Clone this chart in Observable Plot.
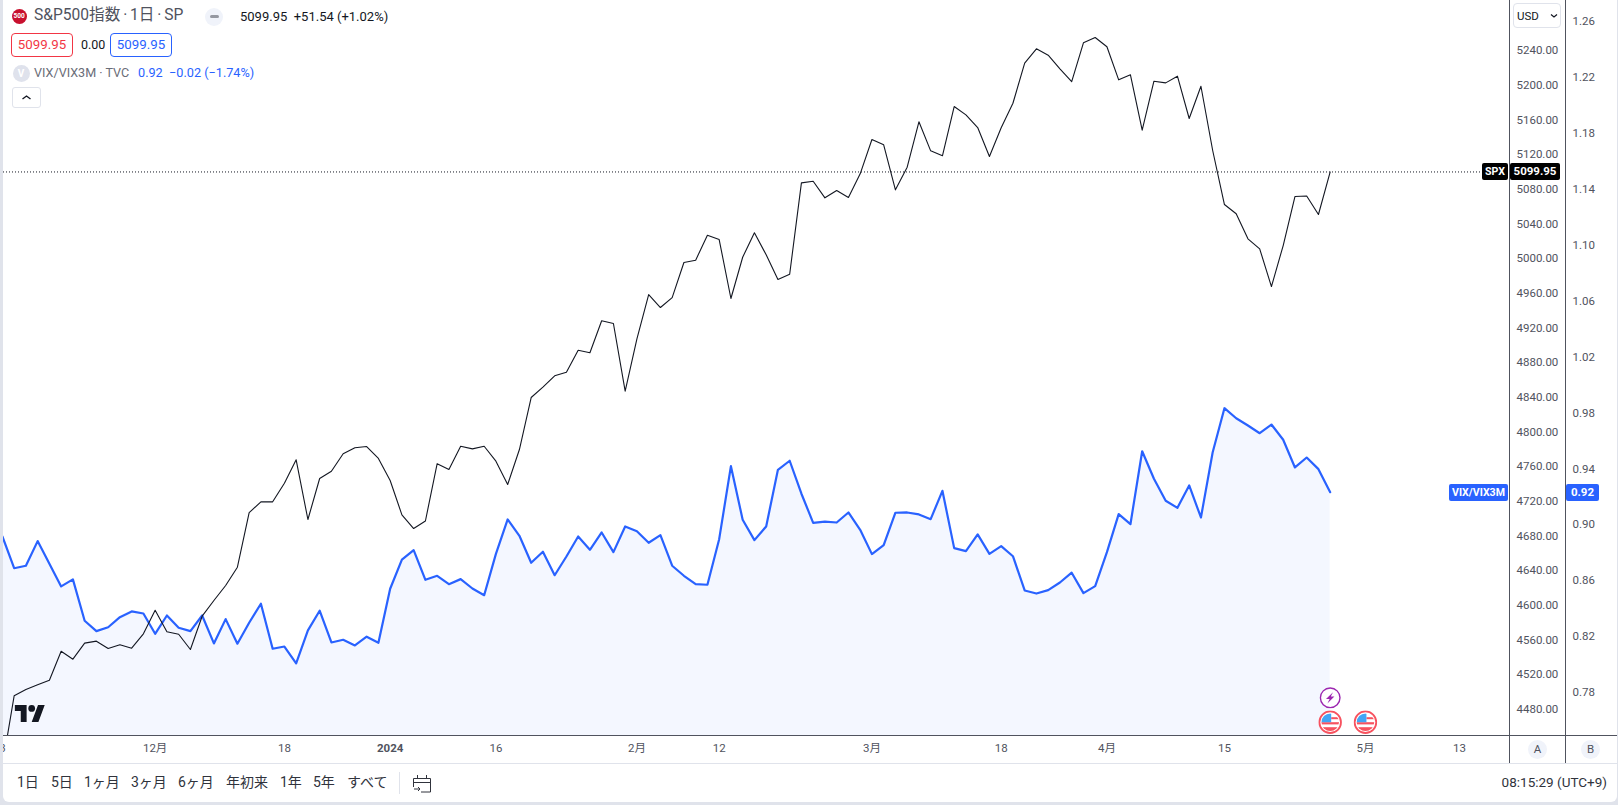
<!DOCTYPE html>
<html lang="ja">
<head>
<meta charset="utf-8">
<title>S&amp;P500指数 / VIX/VIX3M</title>
<script src="https://cdn.jsdelivr.net/npm/d3@7"></script>
<script src="https://cdn.jsdelivr.net/npm/@observablehq/plot@0.6"></script>
<style>
  html, body { margin: 0; padding: 0; width: 1618px; height: 805px; overflow: hidden; background: #e0e3eb; }
  body { font-family: Roboto, "Noto Sans CJK JP", sans-serif; position: relative; }
  #card { position: absolute; left: 3px; top: 0; width: 1614px; height: 802px; background: #fff; border-radius: 0 0 6px 6px; }
  #chart { position: absolute; left: 0; top: 0; }
  #chart svg { display: block; background: transparent; }
  .abs { position: absolute; white-space: nowrap; line-height: 1; }
  .hline, .vline { position: absolute; }
  .box { position: absolute; box-sizing: border-box; height: 24px; width: 62px; border-radius: 4px; border: 1px solid; font-size: 13.3px; line-height: 22px; text-align: center; background: #fff; }
  .tag { position: absolute; box-sizing: border-box; height: 17px; line-height: 17px; font-size: 10.6px; font-weight: 700; color: #fff; text-align: center; border-radius: 2px; }
  .range { position: absolute; top: 775px; font-size: 14px; color: #30333c; line-height: 1; white-space: nowrap; }
</style>
</head>
<body>
<div id="card"></div>
<div id="chart"></div>
<script>
// S&P500 daily closes, one per bar
const spx = [4415.4,4495.8,4503.1,4508.5,4513.8,4547.2,4538,4556.5,4558.8,4550.3,4554.6,4550.7,4567.3,4594.5,4569.6,4566.8,4549.2,4587.6,4605.7,4623,
4644.1,4707,4719.5,4719.5,4741,4768,4699.1,4746.4,4754.8,4774.9,4781.8,4783.3,4769.5,4744.1,4704.5,4688.7,4697.4,4763.5,4756.8,4783.6,
4780.6,4783.6,4766.4,4739.5,4779.8,4839.8,4851.7,4864.8,4869,4894.4,4891.4,4928.3,4925.2,4847.1,4907.5,4958.6,4943.6,4955.1,4995.5,4998.2,
5027,5022,4954,5001.6,5029.8,5004.4,4975.9,4982,5087.4,5089.3,5070.1,5078.5,5070.5,5097.8,5137.4,5131.2,5079.3,5105.4,5157.8,5124.3,
5118.6,5175.4,5165.8,5151.2,5117.8,5150.9,5179.2,5225.4,5242,5234.6,5218.9,5204.2,5248.9,5255,5244.3,5206.2,5212,5148.1,5204.6,5202.7,
5210.4,5161.6,5198.8,5124.7,5062.4,5051.7,5022.8,5011.3,4967.8,5015.1,5071.6,5072.2,5050.9,5099.95];

// VIX/VIX3M daily ratio, one per bar
const vix = [.8916,.8689,.8707,.8883,.8721,.8559,.8609,.8313,.8239,.8267,.8339,.838,.8365,.822,.8351,.8263,.8239,.8351,.8151,.8325,
.8149,.8299,.8435,.8113,.8129,.8008,.8244,.8385,.8158,.8177,.8137,.8199,.8156,.8542,.875,.8818,.8606,.8635,.8575,.8611,
.8544,.8496,.8792,.9038,.8921,.8728,.8807,.8639,.8773,.8916,.8821,.8945,.8804,.8988,.8954,.8871,.8926,.8707,.8635,.8575,
.8571,.8897,.9419,.9036,.889,.8988,.9393,.9458,.9222,.9014,.9023,.9016,.9088,.8964,.879,.8854,.9086,.9088,.9074,.904,
.9243,.8833,.8811,.8931,.8792,.8847,.8775,.853,.8508,.8532,.8587,.8657,.8511,.8561,.8804,.9076,.9004,.9526,.9329,.9172,
.9121,.9281,.9052,.9519,.9834,.9762,.971,.9655,.9717,.9608,.941,.9481,.9398,.9233];

// time-axis labels and the bars they sit on
const timeBars  = [0, 13, 24, 42, 54, 61, 74, 85, 94, 104, 116, 124];
const timeNames = ["3", "12月", "18", "16", "2月", "12", "3月", "18", "4月", "15", "5月", "13"];
const yearBars  = [33];
const yearNames = ["2024"];

// price-axis ticks
const spxTicks = d3.range(4480, 5241, 40);
const vixTicks = [.78,.82,.86,.90,.94,.98,1.02,1.06,1.10,1.14,1.18,1.22,1.26];

// event markers
const flagBars = [113, 116];
const boltBars = [113];

// visible window
const barDomain = [0.094, 128.26];
const spxDomain = [4450, 5297.7];

// the ratio shares the frame with the index: these two pairs line the axes up
const pairA = {vix: 0.78, spx: 4499.6};
const pairB = {vix: 1.26, spx: 5273.4};
const toSpx = d3.scaleLinear([pairA.vix, pairB.vix], [pairA.spx, pairB.spx]);

const rows = spx.map((s, i) => ({bar: i, spx: s, vix: vix[i]}));
const lastSpx = spx[spx.length - 1];
const lastVix = vix[vix.length - 1];

const svgUri = s => "data:image/svg+xml;utf8," + encodeURIComponent(s);
const flagIcon = svgUri(`<svg xmlns="http://www.w3.org/2000/svg" viewBox="0 0 24 24"><defs><clipPath id="c"><circle cx="12" cy="12" r="8.8"/></clipPath></defs><circle cx="12" cy="12" r="10.8" fill="#fff" stroke="#f7525f" stroke-width="1.8"/><g clip-path="url(#c)"><rect width="24" height="24" fill="#fff"/><rect x="13" y="7" width="8" height="2" fill="#f7525f"/><rect x="3" y="12" width="18" height="2.2" fill="#f7525f"/><rect x="3" y="17" width="18" height="5" fill="#f7525f"/><rect x="3" y="3" width="10" height="9" fill="#42a5f5"/></g></svg>`);
const boltIcon = svgUri(`<svg xmlns="http://www.w3.org/2000/svg" viewBox="0 0 22 22"><circle cx="11" cy="11" r="9.8" fill="#fff" stroke="#9c27b0" stroke-width="1.4"/><path d="M13.8 5.4 L6.8 12.2 H10.4 L8.2 16.6 L15.2 9.8 H11.6 Z" fill="#9c27b0"/></svg>`);

const axisFill = "#50535e";
const nameOf = d => timeNames[timeBars.indexOf(d)];
const yearOf = d => yearNames[yearBars.indexOf(d)];

const chart = Plot.plot({
  width: 1618,
  height: 805,
  marginTop: 0,
  marginLeft: 3,
  marginRight: 109,
  marginBottom: 70,
  style: {background: "transparent", fontFamily: 'Roboto, "Noto Sans CJK JP", sans-serif', fontSize: "12px"},
  x: {type: "linear", domain: barDomain},
  y: {type: "linear", domain: spxDomain},
  marks: [
    Plot.areaY(rows, {x: "bar", y1: spxDomain[0], y2: d => toSpx(d.vix), fill: "#2962ff", fillOpacity: 0.05, clip: true}),
    Plot.line(rows, {x: "bar", y: d => toSpx(d.vix), stroke: "#2962ff", strokeWidth: 2.2, clip: true}),
    Plot.ruleY([lastSpx], {stroke: "#131722", strokeDasharray: "1 2", strokeWidth: 1}),
    Plot.line(rows, {x: "bar", y: "spx", stroke: "#131722", strokeWidth: 1.1, clip: true}),
    Plot.axisY(spxTicks, {anchor: "right", tickSize: 0, tickPadding: 7, label: null, fill: axisFill, fontSize: 11.5, tickFormat: d => d.toFixed(2)}),
    Plot.axisY(vixTicks.map(toSpx), {anchor: "right", tickSize: 0, tickPadding: 7, dx: 56, label: null, fill: axisFill, fontSize: 11.5, tickFormat: d => toSpx.invert(d).toFixed(2)}),
    Plot.axisX(timeBars, {anchor: "bottom", tickSize: 0, tickPadding: 8, label: null, fill: axisFill, fontSize: 11.5, tickFormat: nameOf}),
    Plot.axisX(yearBars, {anchor: "bottom", tickSize: 0, tickPadding: 8, label: null, fill: axisFill, fontSize: 11.5, fontWeight: 700, tickFormat: yearOf}),
    Plot.image(flagBars, {x: d => d, frameAnchor: "bottom", dy: -13.3, width: 24, height: 24, src: () => flagIcon}),
    Plot.image(boltBars, {x: d => d, frameAnchor: "bottom", dy: -37.7, width: 22, height: 22, src: () => boltIcon})
  ]
});
document.getElementById("chart").appendChild(chart);

// chrome around the plot
const yOf = chart.scale("y").apply;
function add(html) { document.body.insertAdjacentHTML("beforeend", html); }
const lineCol = "#50535e";
add(`<div class="hline" style="left:3px;top:735px;width:1614px;height:1px;background:${lineCol}"></div>`);
add(`<div class="vline" style="left:1509px;top:0;width:1px;height:763px;background:${lineCol}"></div>`);
add(`<div class="vline" style="left:1565px;top:0;width:1px;height:763px;background:${lineCol}"></div>`);
add(`<div class="hline" style="left:3px;top:763px;width:1614px;height:1px;background:#e0e3eb"></div>`);
add(`<div class="vline" style="left:0;top:0;width:3px;height:805px;background:#e0e3eb"></div>`);

// price tags
const spxY = Math.round(yOf(lastSpx));
const vixY = Math.round(yOf(toSpx(lastVix)));
add(`<div class="tag" style="left:1482px;top:${spxY - 8}px;width:26px;background:#000">SPX</div>`);
add(`<div class="tag" style="left:1510px;top:${spxY - 8}px;width:50px;background:#000;font-size:11.5px">${lastSpx.toFixed(2)}</div>`);
add(`<div class="tag" style="left:1449px;top:${vixY - 8}px;width:59px;background:#2962ff">VIX/VIX3M</div>`);
add(`<div class="tag" style="left:1566px;top:${vixY - 8}px;width:33px;background:#2962ff;font-size:11.5px">${lastVix.toFixed(2)}</div>`);

// currency button, scale buttons
add(`<div class="abs" style="left:1513px;top:3px;width:48px;height:25px;box-sizing:border-box;border:1px solid #e0e3eb;border-radius:4px;background:#fff"></div>`);
add(`<div class="abs" style="left:1517px;top:11px;font-size:11.5px;color:#131722">USD</div>`);
add(`<svg class="abs" style="left:1550px;top:13px" width="8" height="6"><path d="M1 1.5 L4 4 L7 1.5" fill="none" stroke="#131722" stroke-width="1.2"/></svg>`);
add(`<div class="abs" style="left:1528px;top:740px;width:19px;height:19px;border-radius:50%;background:#f0f3fa;color:#50535e;font-size:11.5px;line-height:19px;text-align:center">A</div>`);
add(`<div class="abs" style="left:1581px;top:740px;width:19px;height:19px;border-radius:50%;background:#f0f3fa;color:#50535e;font-size:11.5px;line-height:19px;text-align:center">B</div>`);

// legend
add(`<div class="abs" style="left:11.7px;top:9px;width:15px;height:15px;border-radius:50%;background:#c8102e;color:#fff;font-size:6.5px;font-weight:700;line-height:15px;text-align:center">500</div>`);
add(`<div class="abs" style="left:34px;top:8px;font-size:15.6px;color:#50535e;word-spacing:-1px">S&amp;P500指数 · 1日 · SP</div>`);
add(`<div class="abs" style="left:205px;top:7.5px;width:18px;height:18px;border-radius:50%;background:#f0f3fa"></div>`);
add(`<div class="abs" style="left:209.5px;top:15px;width:9px;height:3px;border-radius:1.5px;background:#9598a1"></div>`);
add(`<div class="abs" style="left:240px;top:10px;font-size:13px;color:#131722">5099.95&nbsp; +51.54 (+1.02%)</div>`);
add(`<div class="box" style="left:11px;top:33px;border-color:#f23645;color:#f23645">5099.95</div>`);
add(`<div class="abs" style="left:81px;top:38.5px;font-size:12.5px;color:#131722">0.00</div>`);
add(`<div class="box" style="left:110px;top:33px;border-color:#2962ff;color:#2962ff">5099.95</div>`);
add(`<div class="abs" style="left:12.5px;top:65px;width:17px;height:17px;border-radius:50%;background:#dfe2ec;color:#fff;font-size:10px;font-weight:700;line-height:17px;text-align:center">V</div>`);
add(`<div class="abs" style="left:34px;top:67px;font-size:12.6px;color:#6a6d78">VIX/VIX3M · TVC</div>`);
add(`<div class="abs" style="left:138px;top:67px;font-size:12.7px;color:#2962ff">0.92&nbsp; −0.02 (−1.74%)</div>`);
add(`<div class="abs" style="left:12px;top:87px;width:29px;height:21px;box-sizing:border-box;border:1px solid #e0e3eb;border-radius:3px;background:#fff"></div>`);
add(`<svg class="abs" style="left:21px;top:94px" width="11" height="7"><path d="M1.5 5 L5.5 2 L9.5 5" fill="none" stroke="#131722" stroke-width="1.4"/></svg>`);

// TradingView mark
add(`<svg class="abs" style="left:14px;top:704px" width="32" height="19" viewBox="-1 -1 38 22"><g fill="#131722" stroke="#fff" stroke-width="1" paint-order="stroke"><path d="M14 20H7V7H0V0h14zM28 20h-8l7.5-20h8z"/><circle cx="20" cy="4" r="4"/></g></svg>`);

// range bar
const rangeNames = ["1日", "5日", "1ヶ月", "3ヶ月", "6ヶ月", "年初来", "1年", "5年", "すべて"];
const rangeLefts = [17, 51, 84, 131, 178, 226, 280, 313, 347];
rangeNames.forEach((n, i) => add(`<div class="range" style="left:${rangeLefts[i]}px">${n}</div>`));
add(`<div class="vline" style="left:399px;top:772px;width:1px;height:22px;background:#e0e3eb"></div>`);
add(`<svg class="abs" style="left:412px;top:773px" width="20" height="20" viewBox="0 0 20 20" fill="none" stroke="#30333c" stroke-width="1"><path d="M1.5 5.5H18.5V19H9M1.5 5.5V14M5.5 2V5.5M14.5 2V5.5M1.5 9.5H18.5M2 16H8M6 14L8 16L6 18"/></svg>`);
add(`<div class="abs" style="right:11px;top:776px;font-size:13.5px;color:#30333c">08:15:29 (UTC+9)</div>`);
</script>
</body>
</html>
